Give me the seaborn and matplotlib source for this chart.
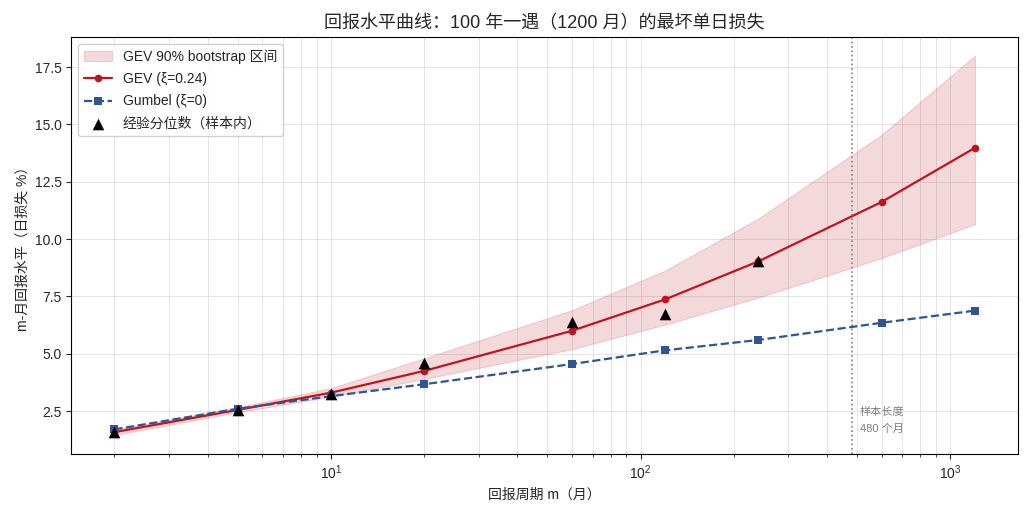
import numpy as np
import pandas as pd
import matplotlib
matplotlib.use("Agg")
import matplotlib.pyplot as plt
import seaborn as sns

# 回报周期（月）与各曲线取值
periods = [2, 5, 10, 20, 60, 120, 240, 600, 1200]
gev_level = [1.58, 2.55, 3.3, 4.25, 6.0, 7.37, 9.03, 11.62, 13.98]
gumbel_level = [1.7, 2.6, 3.15, 3.67, 4.55, 5.15, 5.6, 6.35, 6.88]
band_low = [1.45, 2.45, 3.12, 3.9, 5.2, 6.27, 7.45, 9.17, 10.65]
band_high = [1.7, 2.67, 3.5, 4.8, 6.9, 8.63, 10.9, 14.55, 18.0]
emp_periods = [2, 5, 10, 20, 60, 120, 240]
emp_level = [1.58, 2.55, 3.25, 4.6, 6.4, 6.73, 9.03]
sample_len = 480

sns.set_style("ticks")
plt.rcParams['font.family'] = ['Liberation Sans', 'Noto Sans CJK SC', 'DejaVu Sans']
plt.rcParams['axes.unicode_minus'] = False

df = pd.DataFrame({'m': periods, 'gev': gev_level, 'gumbel': gumbel_level,
                   'lo': band_low, 'hi': band_high})
emp = pd.DataFrame({'m': emp_periods, 'level': emp_level})

red = '#c0141f'
blue = '#2f5593'

fig, ax = plt.subplots(figsize=(10.33, 5.17), dpi=100)

ax.fill_between(df['m'], df['lo'], df['hi'], color=red, alpha=0.16,
                linewidth=0.8, label='GEV 90% bootstrap 区间')
sns.lineplot(data=df, x='m', y='gev', ax=ax, color=red, marker='o',
             markersize=5.5, markeredgewidth=0, linewidth=1.6, label='GEV (ξ=0.24)')
sns.lineplot(data=df, x='m', y='gumbel', ax=ax, color=blue, marker='s',
             markersize=5.5, markeredgewidth=0, linewidth=1.6, linestyle='--',
             label='Gumbel (ξ=0)')
sns.scatterplot(data=emp, x='m', y='level', ax=ax, color='black', marker='^',
                s=70, edgecolor='black', linewidth=0, zorder=5, label='经验分位数（样本内）')

ax.set_xscale('log')
ax.axvline(sample_len, color='gray', linestyle=':', linewidth=1.2)
ax.text(sample_len * 1.06, 1.5, '样本长度\n480 个月', fontsize=8, color='gray',
        va='bottom', ha='left', linespacing=1.8)

ax.grid(True, which='both', color='#dddddd', linewidth=0.7, alpha=0.8)
for s in ax.spines.values():
    s.set_visible(True)
    s.set_color('black')

ax.set_title('回报水平曲线：100 年一遇（1200 月）的最坏单日损失', fontsize=13)
ax.set_xlabel('回报周期 m（月）', fontsize=10)
ax.set_ylabel('m-月回报水平（日损失 %）', fontsize=10)
ax.legend(loc='upper left', fontsize=10, framealpha=0.9, labelspacing=0.6)

plt.tight_layout()
plt.savefig('out.png', dpi=100)
